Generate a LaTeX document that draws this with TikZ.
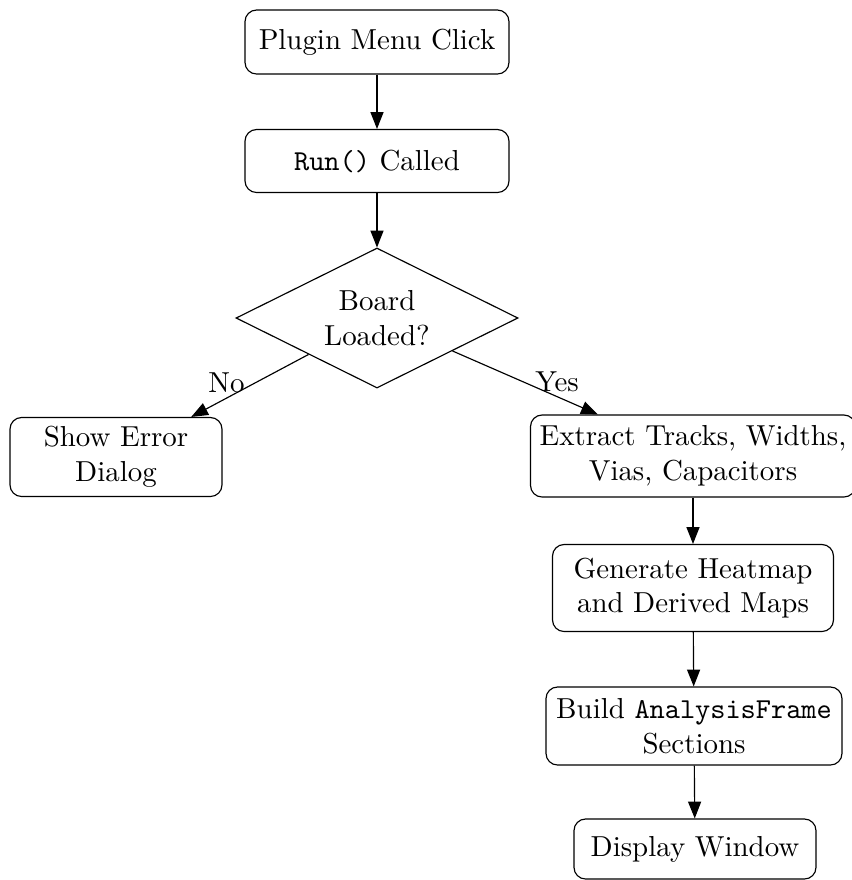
\documentclass[tikz,border=0pt]{standalone}
\usetikzlibrary{shapes.geometric,arrows.meta}
\def\pxlen{0.346pt}
\begin{document}
\begin{tikzpicture}[x=0.346pt,y=-0.346pt,
  box/.style={draw, rounded corners=4pt, align=center, inner sep=2pt, line width=0.4pt},
  dec/.style={draw, diamond, aspect=2, align=center, inner sep=0pt, line width=0.4pt},
  arr/.style={-{Triangle[length=5.8pt,width=4.5pt]}, line width=0.4pt},
  lbl/.style={inner sep=1.5pt}]
\useasboundingbox (0,0) rectangle (852,880);
\node[box, minimum width=264*\pxlen, minimum height=64*\pxlen] (plugin) at (377,42) {Plugin Menu Click};
\node[box, minimum width=264*\pxlen, minimum height=63*\pxlen] (run) at (377,161) {\texttt{Run()} Called};
\node[dec, minimum width=282*\pxlen, minimum height=140*\pxlen] (board) at (377,318) {Board\\Loaded?};
\node[box, minimum width=212*\pxlen, minimum height=79*\pxlen] (error) at (116,457) {Show Error\\Dialog};
\node[box, minimum width=325*\pxlen, minimum height=82*\pxlen] (extract) at (693,456) {Extract Tracks, Widths,\\Vias, Capacitors};
\node[box, minimum width=281*\pxlen, minimum height=87*\pxlen] (gen) at (693,588) {Generate Heatmap\\and Derived Maps};
\node[box, minimum width=296*\pxlen, minimum height=78*\pxlen] (build) at (694,726) {Build \texttt{AnalysisFrame}\\Sections};
\node[box, minimum width=242*\pxlen, minimum height=60*\pxlen] (disp) at (695,849) {Display Window};
\draw[arr] (plugin) -- (run);
\draw[arr] (run) -- (board);
\draw[arr] (board) -- node[lbl, above, pos=0.7] {No} (error);
\draw[arr] (board) -- node[lbl, above, pos=0.72] {Yes} (extract);
\draw[arr] (extract) -- (gen);
\draw[arr] (gen) -- (build);
\draw[arr] (build) -- (disp);
\end{tikzpicture}
\end{document}
